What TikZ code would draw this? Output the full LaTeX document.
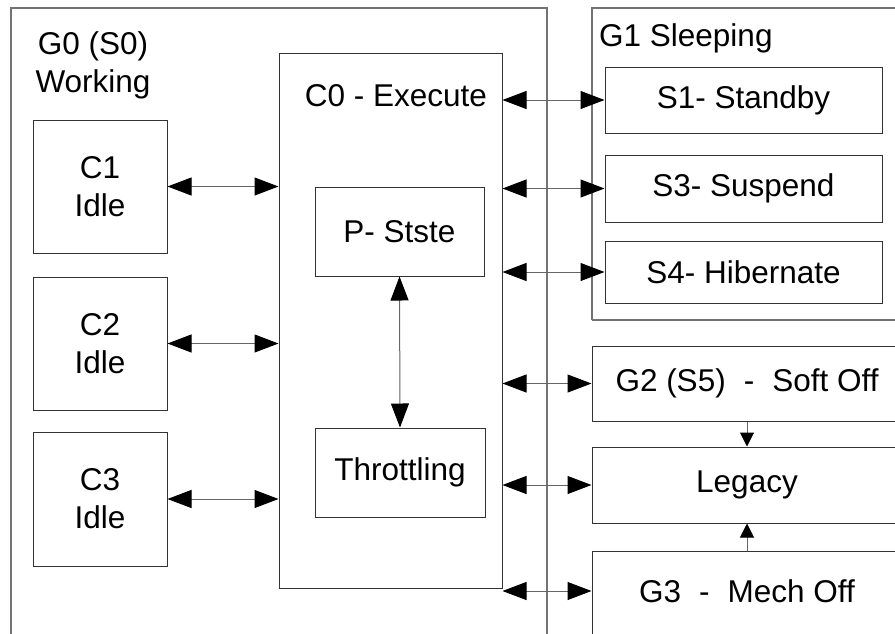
\documentclass[tikz,border=0pt]{standalone}
\usepackage{fontspec}
\setmainfont{Liberation Sans}
\usetikzlibrary{arrows.meta}

\tikzset{
  lbl/.style={font=\fontsize{31.5}{38}\selectfont, inner sep=0pt, align=center},
  box/.style={lbl, draw=black!80, line width=1pt},
  grp/.style={draw=black!55, line width=1.2pt},
  biarrow/.style={draw=black!60, line width=1pt,
    {Triangle[length=24pt,width=18pt,color=black]}-{Triangle[length=24pt,width=18pt,color=black]}},
  onearrow/.style={draw=black!60, line width=1pt,
    -{Triangle[length=14pt,width=14pt,color=black]}}
}

\begin{document}
\begin{tikzpicture}[x=1pt,y=-1pt]
\useasboundingbox (0,0) rectangle (895,633);
\clip (0,0) rectangle (895,633);

% the two groups, open towards the page edges
\draw[grp] (11,650) -- (11,8) -- (547,8) -- (547,650);
\draw[grp] (592,320) -- (592,8) -- (910,8);
\draw[grp] (592,320) -- (910,320);
\node[lbl] (g0lbl) at (93,65) {G0 (S0)\\Working};
\node[lbl, anchor=base west] (g1lbl) at (599,46) {G1 Sleeping};

% idle states
\node[box, minimum width=134, minimum height=133] (c1) at (100,186.5) {C1\\Idle};
\node[box, minimum width=134, minimum height=133] (c2) at (100,343.5) {C2\\Idle};
\node[box, minimum width=134, minimum height=134] (c3) at (100,499) {C3\\Idle};

% execute state
\node[box, minimum width=223, minimum height=535] (c0) at (390.5,320.5) {};
\node[lbl, anchor=base] (c0lbl) at (396,106) {C0 - Execute};
\node[box, minimum width=169, minimum height=89] (pst) at (399.5,231.5) {P- Stste};
\node[box, minimum width=170, minimum height=89] (thr) at (400,472.5) {Throttling};

% sleeping states
\node[box, minimum width=277, minimum height=66] (s1) at (743.5,100) {S1- Standby};
\node[box, minimum width=277, minimum height=67] (s3) at (743.5,188.5) {S3- Suspend};
\node[box, minimum width=277, minimum height=62] (s4) at (743.5,272) {S4- Hibernate};

% off states
\node[box, minimum width=310, minimum height=75] (g2) at (747,383.5) {G2 (S5)\hspace{18pt}-\hspace{18pt}Soft Off};
\node[box, minimum width=310, minimum height=76] (legacy) at (747,485) {Legacy};
\node[box, minimum width=310, minimum height=90] (g3) at (747,596) {};
\node[lbl] (g3lbl) at (747,591) {G3\hspace{18pt}-\hspace{18pt}Mech Off};

% transitions
\draw[biarrow] (c1.east) -- (c1.east -| c0.west);
\draw[biarrow] (c2.east) -- (c2.east -| c0.west);
\draw[biarrow] (c3.east) -- (c3.east -| c0.west);
\draw[biarrow] (pst.south) -- (thr.north);
\draw[biarrow] (c0.east |- s1.west) -- (s1.west);
\draw[biarrow] (c0.east |- s3.west) -- (s3.west);
\draw[biarrow] (c0.east |- s4.west) -- (s4.west);
\draw[biarrow] (c0.east |- g2.west) -- (g2.west);
\draw[biarrow] (c0.east |- legacy.west) -- (legacy.west);
\draw[biarrow] (c0.east |- g3lbl) -- (g3.west |- g3lbl);
\draw[onearrow] (g2.south) -- (legacy.north);
\draw[onearrow] (g3.north) -- (legacy.south);
\end{tikzpicture}
\end{document}
